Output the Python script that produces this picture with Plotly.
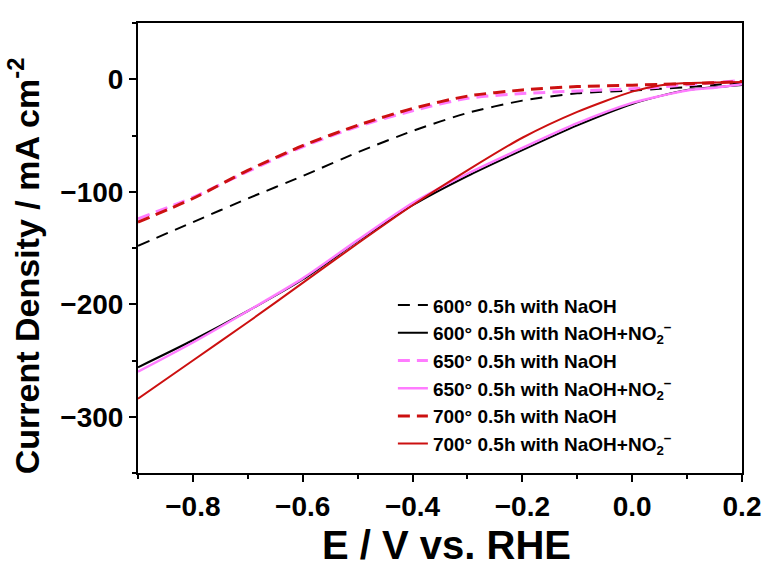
import plotly.graph_objects as go

E = [-0.9, -0.8, -0.7, -0.6, -0.5, -0.4, -0.3, -0.2, -0.1, 0.0, 0.05, 0.1, 0.15, 0.2]

j600_naoh = [-148, -127, -106, -86, -65, -46, -30, -19, -12.5, -10, -8.5, -7, -5, -3]
j600_no2 = [-256, -232, -206, -178, -144, -112, -86, -63, -41, -22, -15, -9.5, -7, -5]
j650_naoh = [-124, -105, -82, -60, -42, -28, -17, -12.7, -10.5, -8.5, -7, -5, -3, -1]
j650_no2 = [-260, -234, -206, -177, -143, -110, -84, -61, -39, -21, -15, -10, -7.5, -4.5]
j700_naoh = [-127, -106, -81, -59, -41, -26, -15, -9.5, -6.5, -5.3, -4.6, -4, -3, -2]
j700_no2 = [-284, -250, -216, -181, -146, -112, -81, -52, -29, -11, -5.5, -3.4, -2.8, -2.4]

names = [
    "600° 0.5h with NaOH",
    "600° 0.5h with NaOH+NO<sub>2</sub><sup>−</sup>",
    "650° 0.5h with NaOH",
    "650° 0.5h with NaOH+NO<sub>2</sub><sup>−</sup>",
    "700° 0.5h with NaOH",
    "700° 0.5h with NaOH+NO<sub>2</sub><sup>−</sup>",
]
series = [j600_naoh, j600_no2, j650_naoh, j650_no2, j700_naoh, j700_no2]
colors = ["#000000", "#000000", "#FF7CFF", "#FF7CFF", "#CC1010", "#CC1010"]
dashes = ["12px,8px", "solid", "12px,7px", "solid", "12px,7px", "solid"]
widths = [2, 2, 3, 2.5, 3, 2]

FONT = "Liberation Sans, Arial, sans-serif"

fig = go.Figure()
for i, (nm, ys) in enumerate(zip(names, series)):
    fig.add_trace(go.Scatter(
        x=E, y=ys, mode="lines", name=nm,
        line=dict(color=colors[i], dash=dashes[i], width=widths[i], shape="spline", smoothing=0.7),
    ))

axis_common = dict(
    showline=True, linecolor="black", linewidth=2, mirror=True,
    ticks="outside", ticklen=7, tickwidth=2, tickcolor="black",
    showgrid=False, zeroline=False,
    tickfont=dict(family=FONT, size=28, color="black", weight="bold"),
)

fig.update_layout(
    width=773, height=572,
    margin=dict(l=138, r=24, t=23, b=99),
    paper_bgcolor="white", plot_bgcolor="white",
    xaxis=dict(
        range=[-0.9, 0.2], tick0=0, dtick=0.2, tickformat=".1f",
        minor=dict(dtick=0.1, ticks="outside", ticklen=4, tickwidth=2, tickcolor="black"),
        **axis_common,
    ),
    yaxis=dict(
        range=[-350, 50], tick0=0, dtick=100,
        minor=dict(dtick=50, ticks="outside", ticklen=4, tickwidth=2, tickcolor="black"),
        **axis_common,
    ),
    annotations=[
        dict(
            text="Current Density / mA cm<sup>-2</sup>", textangle=-90,
            xref="paper", yref="paper", x=-0.19, y=0.46, xanchor="center", yanchor="middle",
            showarrow=False, font=dict(family=FONT, size=34, color="black", weight="bold"),
        ),
        dict(
            text="E / V vs. RHE",
            xref="paper", yref="paper", x=0.51, y=-0.16, xanchor="center", yanchor="middle",
            showarrow=False, font=dict(family=FONT, size=40, color="black", weight="bold"),
        ),
    ],
    legend=dict(
        x=0.422, y=0.415, xanchor="left", yanchor="top",
        bgcolor="rgba(0,0,0,0)",
        font=dict(family=FONT, size=19, color="black", weight="bold"),
    ),
    showlegend=True,
)

fig.write_html("out.html")
